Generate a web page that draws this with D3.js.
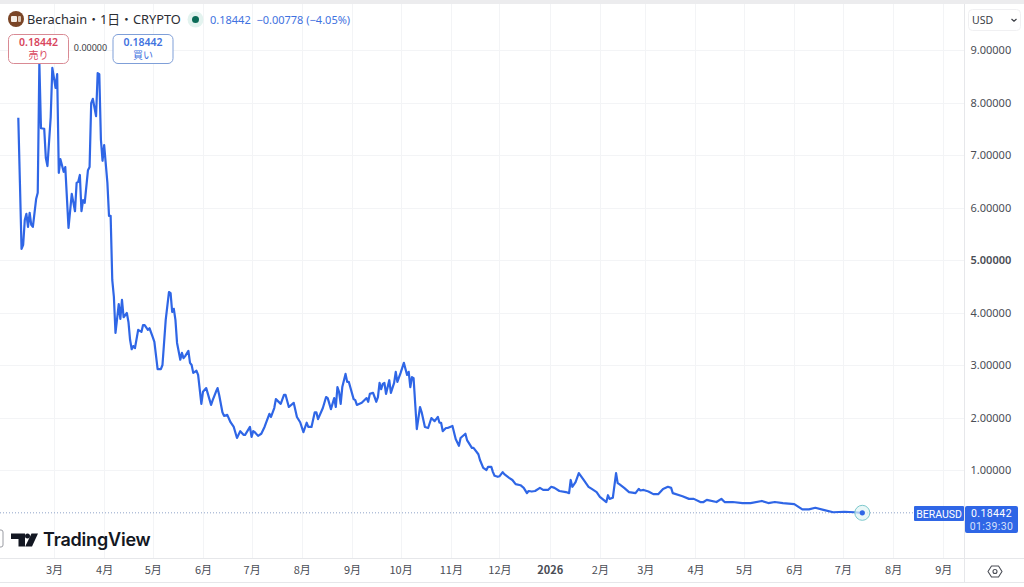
<!DOCTYPE html>
<html lang="ja">
<head>
<meta charset="utf-8">
<title>BERAUSD</title>
<script src="https://cdn.jsdelivr.net/npm/d3@7/dist/d3.min.js"></script>
<style>
  html, body { margin: 0; padding: 0; background: #fff; }
  svg { display: block; }
  text { font-family: "Noto Sans", "Noto Sans CJK JP", sans-serif; }
</style>
</head>
<body>
<svg id="chart" width="1024" height="587"></svg>
<script>
// BERAUSD daily close, sampled at the turning points of the line.
const firstDay = "2025-02-07";
const dayOffsets = [
  0,1,2,3,4,5,6,7,8,9,11,12,13,14,16,17,18,20,21,23,24,25,26,28,29,31,33,35,36,37,38,39,40,41,43,44,45,46,48,49,50,
  51,52,53,55,56,57,58,59,60,62,63,64,65,67,68,69,70,71,72,74,76,77,78,80,81,83,84,86,88,89,91,93,94,95,96,97,98,
  100,101,102,103,105,106,107,108,110,111,113,114,116,119,120,122,123,124,126,127,129,131,133,135,137,139,140,143,144,145,146,148,150,
  152,155,156,158,159,162,164,165,167,170,172,174,176,178,179,181,183,184,185,188,190,191,193,195,196,197,198,199,200,202,203,204,207,208,209,
  212,215,216,217,219,221,222,223,224,225,226,227,229,230,232,233,234,236,238,240,241,242,243,244,246,248,249,251,253,255,257,259,260,261,262,
  264,265,268,270,272,273,276,277,280,281,284,285,287,289,290,292,293,294,296,297,299,300,303,305,307,310,312,314,315,317,319,322,324,327,329,
  331,334,338,340,341,342,344,346,349,352,354,357,359,363,364,365,367,369,370,371,374,377,381,383,384,386,389,392,395,398,401,403,404,410,414,
  417,421,423,425,431,434,436,441,447,452,459,463,467,472,479,484,488,492,497,503,510,516,521
];
const closes = [
  7.71,6.47,5.21,5.29,5.76,5.88,5.63,5.90,5.67,5.63,6.16,6.28,8.75,7.51,7.50,6.94,6.79,7.72,8.66,8.28,8.54,6.66,6.92,6.68,6.77,5.61,6.26,5.93,6.47,6.49,6.62,5.93,6.14,6.09,6.71,6.77,7.99,8.07,7.74,8.56,8.54,
  7.29,6.89,7.19,6.47,5.84,5.84,4.62,4.30,3.61,4.16,3.88,4.24,3.91,3.99,3.82,3.48,3.30,3.36,3.32,3.67,3.63,3.76,3.76,3.67,3.70,3.53,3.44,2.92,2.92,3.00,3.86,4.39,4.37,4.01,4.07,3.86,3.42,
  3.10,3.23,3.13,3.17,3.27,3.04,3.00,2.85,2.89,2.81,2.26,2.49,2.56,2.24,2.33,2.49,2.56,2.43,2.10,2.03,2.05,1.91,1.82,1.61,1.74,1.67,1.67,1.82,1.63,1.74,1.72,1.65,1.69,
  1.82,2.07,2.01,2.18,2.35,2.26,2.43,2.43,2.20,2.28,2.01,1.91,1.72,1.90,1.82,1.82,2.10,2.10,1.97,2.18,2.39,2.37,2.16,2.37,2.20,2.58,2.49,2.26,2.58,2.83,2.68,2.68,2.35,2.33,2.24,
  2.28,2.37,2.30,2.45,2.47,2.30,2.39,2.66,2.54,2.64,2.66,2.45,2.71,2.47,2.66,2.87,2.68,2.85,3.04,2.81,2.87,2.58,2.77,2.75,1.78,2.20,2.10,1.82,1.80,1.99,1.93,2.01,1.90,1.90,1.74,
  1.80,1.80,1.84,1.59,1.46,1.61,1.69,1.57,1.42,1.42,1.30,1.19,1.04,1.00,1.06,1.06,0.96,0.89,0.87,0.88,0.96,0.92,0.85,0.81,0.73,0.71,0.66,0.56,0.60,0.59,0.60,0.66,0.62,0.62,0.68,
  0.66,0.60,0.58,0.56,0.81,0.68,0.77,0.94,0.81,0.68,0.64,0.58,0.49,0.39,0.52,0.45,0.47,0.94,0.75,0.73,0.66,0.58,0.56,0.64,0.61,0.62,0.59,0.54,0.54,0.64,0.68,0.66,0.56,0.50,0.45,
  0.45,0.39,0.39,0.43,0.39,0.45,0.39,0.39,0.37,0.37,0.41,0.37,0.39,0.37,0.35,0.25,0.25,0.28,0.24,0.195,0.205,0.195,0.18442
];
const priceTicks = [1, 2, 3, 4, 5, 6, 7, 8, 9];
const monthDates = [
  "2025-03-01","2025-04-01","2025-05-01","2025-06-01","2025-07-01","2025-08-01","2025-09-01","2025-10-01","2025-11-01","2025-12-01",
  "2026-01-01","2026-02-01","2026-03-01","2026-04-01","2026-05-01","2026-06-01","2026-07-01","2026-08-01","2026-09-01"
];
const monthLabels = ["3月","4月","5月","6月","7月","8月","9月","10月","11月","12月","2026","2月","3月","4月","5月","6月","7月","8月","9月"];
const lastPrice = 0.18442;
const headerTitle = "Berachain・1日・CRYPTO";
const headerQuote = "0.18442  −0.00778 (−4.05%)";

const width = 1024, plotRight = 964.5, plotBottom = 558;
const lineBlue = "#2f66e6", gridGrey = "#f3f4f6", ruleGrey = "#e6e7ea", axisInk = "#4a4d55";

const svg = d3.select("#chart");
const parseDay = d3.utcParse("%Y-%m-%d");
const start = parseDay(firstDay);
const points = dayOffsets.map((d, i) => ({ date: d3.utcDay.offset(start, d), close: closes[i] }));
const monthTicks = monthDates.map(parseDay);

const x = d3.scaleUtc().domain([start, parseDay("2026-09-01")]).range([18.3, 943.3]);
const y = d3.scaleLinear().domain([0, 9]).range([522.5, 50]);

// Top strip of the page
svg.append("rect").attr("width", width).attr("height", 4).attr("fill", "#ececee");

// Grid
const grid = svg.append("g");
grid.selectAll(".v").data(monthTicks).join("line")
  .attr("x1", d => Math.round(x(d)) + .5).attr("x2", d => Math.round(x(d)) + .5)
  .attr("y1", 4).attr("y2", plotBottom).attr("stroke", gridGrey);
grid.selectAll(".h").data(priceTicks).join("line")
  .attr("x1", 0).attr("x2", plotRight)
  .attr("y1", d => Math.round(y(d)) + .5).attr("y2", d => Math.round(y(d)) + .5).attr("stroke", gridGrey);

// Last price guide
svg.append("line").attr("x1", 0).attr("x2", plotRight)
  .attr("y1", y(lastPrice)).attr("y2", y(lastPrice))
  .attr("stroke", "#8fa3c8").attr("stroke-width", 1).attr("stroke-dasharray", "1 2");

// Price line
svg.append("path").datum(points)
  .attr("fill", "none").attr("stroke", lineBlue).attr("stroke-width", 2.2)
  .attr("stroke-linejoin", "round")
  .attr("d", d3.line().x(d => x(d.date)).y(d => y(d.close)));

// Live marker on the latest close
const tip = points[points.length - 1];
svg.append("circle").attr("cx", x(tip.date)).attr("cy", y(tip.close)).attr("r", 7.5)
  .attr("fill", "#dff3f3").attr("fill-opacity", .7).attr("stroke", "#7cc8cc").attr("stroke-width", 1);
svg.append("circle").attr("cx", x(tip.date)).attr("cy", y(tip.close)).attr("r", 2.6).attr("fill", lineBlue);

// Frame rules
svg.append("line").attr("x1", plotRight).attr("x2", plotRight).attr("y1", 4).attr("y2", 583).attr("stroke", ruleGrey);
svg.append("line").attr("x1", 0).attr("x2", width).attr("y1", plotBottom + .5).attr("y2", plotBottom + .5).attr("stroke", ruleGrey);
svg.append("line").attr("x1", 0).attr("x2", width).attr("y1", 582.5).attr("y2", 582.5).attr("stroke", ruleGrey);

// Price axis
const yAxis = svg.append("g").attr("transform", `translate(${plotRight},0)`)
  .call(d3.axisRight(y).tickValues(priceTicks).tickSize(0).tickPadding(6).tickFormat(d3.format(".5f")));
yAxis.select(".domain").remove();
yAxis.selectAll("text").attr("fill", axisInk).attr("font-size", 11)
  .style("font-family", '"Noto Sans", sans-serif')
  .attr("font-weight", d => d === 5 ? 600 : 400);

// Time axis
const xAxis = svg.append("g").attr("transform", `translate(0,${plotBottom})`)
  .call(d3.axisBottom(x).tickValues(monthTicks).tickSize(0).tickPadding(8)
    .tickFormat((d, i) => monthLabels[i]));
xAxis.select(".domain").remove();
xAxis.selectAll("text").attr("fill", axisInk).attr("font-size", 11)
  .style("font-family", '"Noto Sans CJK JP", "Noto Sans", sans-serif')
  .attr("font-weight", (d, i) => monthLabels[i] === "2026" ? 700 : 400);

// Header
const head = svg.append("g");
head.append("circle").attr("cx", 16).attr("cy", 19).attr("r", 8).attr("fill", "#7a4526");
head.append("rect").attr("x", 11).attr("y", 16).attr("width", 6).attr("height", 6).attr("rx", 1).attr("fill", "#f6efe8");
head.append("rect").attr("x", 18).attr("y", 16).attr("width", 3).attr("height", 6).attr("rx", 1).attr("fill", "#d9c4b2");
head.append("text").attr("x", 27).attr("y", 24).attr("font-size", 12.8).attr("fill", "#2b2d33")
  .style("font-family", '"Noto Sans", "Noto Sans CJK JP", sans-serif').text(headerTitle);
head.append("circle").attr("cx", 195.5).attr("cy", 19.5).attr("r", 8).attr("fill", "#e3f3ef");
head.append("circle").attr("cx", 195.5).attr("cy", 19.5).attr("r", 3.5).attr("fill", "#0b6b57");
head.append("text").attr("x", 210).attr("y", 23.5).attr("font-size", 11).attr("fill", "#3f72e0")
  .attr("xml:space", "preserve").style("white-space", "pre").text(headerQuote);

// Sell / spread / buy chips
function chip(left, ink, border, price, word) {
  const g = svg.append("g");
  g.append("rect").attr("x", left + .5).attr("y", 34.5).attr("width", 60).attr("height", 29).attr("rx", 5)
    .attr("fill", "#fff").attr("stroke", border);
  g.append("text").attr("x", left + 30.5).attr("y", 46).attr("text-anchor", "middle")
    .attr("font-size", 10.5).attr("font-weight", 600).attr("fill", ink).text(price);
  g.append("text").attr("x", left + 30.5).attr("y", 59).attr("text-anchor", "middle")
    .attr("font-size", 10).attr("fill", ink).style("font-family", '"Noto Sans CJK JP", sans-serif').text(word);
}
chip(8, "#d8455c", "#d98a94", "0.18442", "売り");
chip(112.5, "#3f72e0", "#7f9fd8", "0.18442", "買い");
svg.append("text").attr("x", 90.5).attr("y", 51).attr("text-anchor", "middle")
  .attr("font-size", 9).attr("fill", "#3a3d44").text("0.00000");

// Currency selector
svg.append("rect").attr("x", 968.5).attr("y", 9.5).attr("width", 52).attr("height", 21).attr("rx", 4)
  .attr("fill", "#fff").attr("stroke", "#f0f0f2");
svg.append("text").attr("x", 972).attr("y", 24).attr("font-size", 10.5).attr("fill", "#3a3d44").text("USD");
svg.append("path").attr("d", "M1011.5 19l2.5 2.2 2.5-2.2").attr("fill", "none").attr("stroke", "#3a3d44").attr("stroke-width", 1.2);

// Last price tags
svg.append("rect").attr("x", 914).attr("y", 506).attr("width", 50).attr("height", 15).attr("rx", 1).attr("fill", lineBlue);
svg.append("text").attr("x", 939).attr("y", 517.5).attr("text-anchor", "middle").attr("font-size", 10.5).attr("fill", "#fff")
  .style("font-family", "Roboto, sans-serif").text("BERAUSD");
svg.append("rect").attr("x", 965).attr("y", 506).attr("width", 53).attr("height", 27).attr("rx", 2).attr("fill", lineBlue);
svg.append("text").attr("x", 991.5).attr("y", 517).attr("text-anchor", "middle").attr("font-size", 10.5).attr("fill", "#fff")
  .style("font-family", "Roboto, sans-serif").attr("letter-spacing", ".4").text("0.18442");
svg.append("text").attr("x", 991.5).attr("y", 530).attr("text-anchor", "middle").attr("font-size", 10.5).attr("fill", "#d5e0fb")
  .style("font-family", "Roboto, sans-serif").attr("letter-spacing", ".4").text("01:39:30");

// Brand mark
const brand = svg.append("g").attr("fill", "#131722");
brand.append("path").attr("d", "M11 533.5h14v13h-6.5v-7.5H11z");
brand.append("circle").attr("cx", 27.5).attr("cy", 536).attr("r", 2.5);
brand.append("path").attr("d", "M31.5 533.5h6.5l-6 13h-6.8z");
brand.append("text").attr("x", 43).attr("y", 546).attr("font-size", 18).attr("font-weight", 600)
  .style("font-family", "Inter, sans-serif").attr("letter-spacing", "-0.2").text("TradingView");
svg.append("path").attr("d", "M-2 530h3a2 2 0 0 1 2 2v13a2 2 0 0 1-2 2h-3").attr("fill", "none").attr("stroke", "#9a9ca3");

// Settings glyph
svg.append("path").attr("d", "M991.5 566h7l3.5 5.5-3.5 5.5h-7l-3.5-5.5z").attr("fill", "none").attr("stroke", axisInk).attr("stroke-width", 1.1).attr("stroke-linejoin", "round");
svg.append("circle").attr("cx", 995).attr("cy", 571.5).attr("r", 2).attr("fill", "none").attr("stroke", axisInk).attr("stroke-width", 1.1);
</script>
</body>
</html>
